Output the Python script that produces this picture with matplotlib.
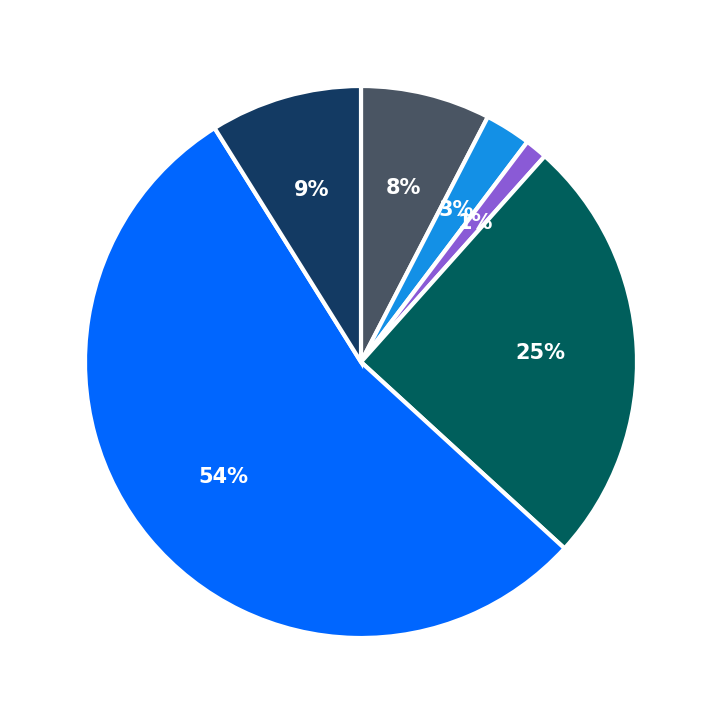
import matplotlib
matplotlib.use('Agg')
import matplotlib.pyplot as plt

# slice shares, clockwise from 12 o'clock
values = [7.6, 2.7, 1.3, 25.2, 54.3, 8.9]
colors = ['#4a5563', '#1390e6', '#8a5ad6', '#005f5c', '#0066ff', '#133a63']

fig = plt.figure(figsize=(7.23, 7.23), dpi=100)
ax = fig.add_axes([85 / 723, 85 / 723, 552 / 723, 552 / 723])

wedges, texts, autotexts = ax.pie(
    values, colors=colors, startangle=90, counterclock=False,
    autopct='%1.0f%%', pctdistance=0.65,
    wedgeprops=dict(edgecolor='white', linewidth=3),
    textprops=dict(color='white', fontsize=15, fontweight='bold'))
ax.set_xlim(-1, 1)
ax.set_ylim(-1, 1)
ax.set_aspect('equal')

plt.savefig('out.png', dpi=100)
plt.close()
